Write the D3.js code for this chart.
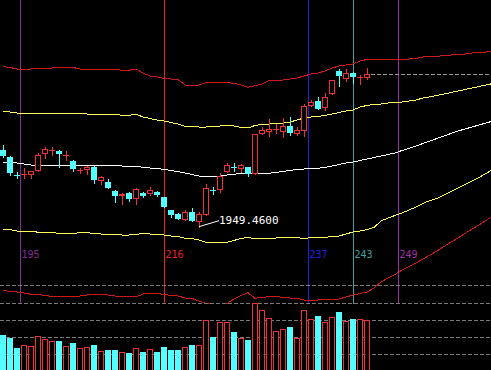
<!DOCTYPE html>
<meta charset="utf-8">
<style>
body { margin: 0; background: #000; }
svg { display: block; }
.wick, .band, .grid, .mark { shape-rendering: crispEdges; }
</style>
<body>
<script src="https://d3js.org/d3.v7.min.js"></script>
<script>
// daily candles, one per bar index
var opens  = [2110.5,2095.8,2058.0,2058.0,2058.0,2067.0,2101.5,2108.4,2108.4,2097.9,2087.4,2067.5,2067.9,2074.8,2045.4,2043.3,2024.4,2014.5,2020.2,2008.3,2020.2,2018.7,2021.7,2010.8,1983.9,1975.5,1963.5,1980.3,1959.9,1974.0,2026.5,2026.5,2063.7,2074.8,2070.0,2074.2,2060.7,2144.7,2148.3,2151.9,2148.9,2161.5,2144.1,2150.4,2202.3,2214.0,2198.7,2228.1,2276.4,2259.6,2272.2,2261.7,2261.7];
var highs  = [2121.0,2097.9,2063.7,2072.1,2066.4,2104.8,2116.8,2116.2,2109.5,2108.4,2088.5,2073.3,2076.3,2075.9,2055.3,2049.6,2025.5,2020.8,2021.3,2029.7,2021.3,2032.8,2024.4,2011.8,1984.5,1977.6,1983.9,1988.1,1980.9,2038.5,2033.4,2061.6,2082.6,2082.6,2081.1,2074.8,2144.1,2159.4,2175.6,2164.5,2177.1,2179.2,2158.2,2207.1,2215.5,2222.4,2229.6,2257.5,2280.0,2280.0,2273.3,2267.4,2282.1];
var lows   = [2095.8,2058.0,2051.1,2052.3,2052.3,2065.4,2093.1,2100.0,2075.4,2089.5,2067.0,2061.6,2059.5,2041.8,2039.7,2029.7,2001.9,1996.5,2004.0,1996.5,2011.2,2016.0,2013.9,1990.8,1970.4,1965.0,1962.5,1960.8,1949.46,1973.4,2018.1,2021.7,2063.3,2066.4,2063.7,2055.9,2060.1,2144.1,2139.3,2145.6,2137.2,2142.0,2142.0,2140.5,2201.9,2196.6,2194.5,2227.5,2245.5,2256.0,2251.8,2248.5,2259.0];
var closes = [2097.9,2062.8,2057.4,2059.5,2066.4,2100.0,2113.2,2109.5,2102.7,2099.0,2070.0,2068.5,2074.8,2046.9,2053.8,2030.1,2014.5,2017.5,2007.6,2028.6,2014.5,2025.9,2016.0,1991.4,1974.0,1965.6,1980.9,1961.4,1975.5,2030.1,2025.9,2056.5,2079.0,2074.2,2078.4,2059.5,2143.5,2152.5,2155.2,2154.6,2160.3,2145.6,2152.5,2203.5,2210.7,2197.2,2221.2,2256.9,2265.9,2271.6,2264.4,2262.8,2270.1];
var volumes = [37,34.3,24.3,27,26,35.7,33,31,31,26,29,24,25,27,21,22,22,20,19,24,20,23,20,25,22,22,25,27,27,52,35,50,50,40,34,32,69,62,54,41,43,45,34,62,53,56,50,55,60,51,53,53,52];

// channel lines (run past the last candle)
var upperOuter = [2285.4,2283.8,2280.6,2280.6,2280.6,2282.1,2282.1,2282.7,2284.8,2284.8,2283.8,2280.6,2280.6,2280.6,2280.6,2280.6,2279.6,2277.9,2277.9,2280.6,2272.2,2265.9,2263.8,2260.7,2259.6,2258.6,2247.0,2246.4,2247.0,2251.8,2251.8,2251.8,2251.8,2250.6,2247.0,2242.2,2245.5,2249.1,2256.5,2257.5,2257.5,2259.6,2261.7,2265.9,2270.1,2272.2,2276.4,2282.7,2286.9,2289.0,2291.1,2297.4,2300.6,2301.6,2301.6,2301.6,2301.6,2301.6,2301.6,2302.7,2305.8,2306.4,2306.9,2309.0,2310.0,2311.1,2312.1,2314.2,2315.3,2316.3,2317.4];
var upperInner = [2190.9,2190.3,2188.2,2188.2,2188.2,2188.2,2187.2,2188.2,2188.2,2188.2,2188.2,2187.2,2186.1,2185.5,2185.5,2185.5,2185.1,2183.4,2183.4,2185.5,2179.8,2176.7,2173.5,2171.4,2168.3,2165.1,2159.9,2159.4,2158.8,2158.8,2159.9,2160.9,2162.0,2160.9,2157.8,2156.7,2162.0,2164.1,2165.1,2166.2,2167.2,2169.3,2173.5,2177.7,2179.8,2180.9,2183.0,2186.1,2189.3,2192.4,2194.5,2200.8,2204.0,2206.1,2207.1,2209.2,2210.3,2211.3,2213.4,2215.5,2219.7,2222.2,2225.0,2228.1,2231.3,2234.4,2237.6,2240.7,2243.9,2247.0,2250.2];
var middle = [2084.7,2084.3,2083.2,2081.1,2079.0,2078.4,2077.5,2077.5,2077.5,2077.5,2077.5,2077.5,2077.5,2077.5,2077.5,2077.5,2077.5,2076.9,2076.3,2075.9,2074.2,2072.7,2071.7,2069.6,2067.5,2064.9,2062.2,2059.1,2055.9,2055.9,2055.9,2055.9,2058.0,2059.5,2061.2,2061.6,2061.6,2061.6,2061.6,2063.3,2065.4,2067.5,2069.6,2070.6,2071.7,2072.1,2073.8,2076.9,2080.1,2083.2,2085.3,2088.5,2091.6,2094.8,2097.9,2101.1,2104.2,2109.5,2113.7,2118.9,2124.2,2129.4,2134.7,2139.9,2145.2,2150.4,2154.6,2158.8,2163.0,2167.2,2171.4];
var lowerInner = [1944.0,1943.6,1940.4,1940.4,1940.4,1937.7,1937.7,1937.3,1935.2,1934.7,1935.2,1936.8,1936.8,1935.2,1934.1,1934.1,1933.1,1932.0,1932.0,1933.1,1935.6,1934.1,1933.5,1932.0,1929.9,1928.9,1925.1,1924.7,1921.5,1916.7,1916.7,1916.7,1916.7,1920.5,1925.1,1926.3,1924.7,1924.7,1925.1,1925.7,1926.3,1926.3,1926.3,1924.7,1926.3,1926.3,1927.2,1928.4,1929.9,1934.1,1938.3,1940.4,1943.6,1947.8,1961.4,1967.7,1973.0,1978.2,1984.5,1990.8,1998.2,2004.5,2008.7,2016.0,2023.4,2030.7,2038.1,2045.4,2052.8,2061.2,2069.6];
var lowerOuter = [1816.5,1812.9,1812.3,1810.2,1807.5,1807.5,1805.0,1802.9,1802.4,1802.4,1802.4,1803.9,1806.0,1807.5,1807.5,1806.0,1803.9,1802.9,1803.9,1801.8,1808.1,1809.6,1809.6,1807.1,1805.0,1803.9,1799.7,1798.7,1793.4,1788.2,1787.1,1782.9,1788.2,1797.6,1805.0,1810.8,1799.1,1800.8,1802.4,1802.9,1800.8,1799.7,1799.1,1795.5,1793.4,1795.5,1796.6,1797.0,1797.6,1801.8,1806.0,1809.2,1812.3,1820.7,1833.3,1841.7,1849.1,1858.5,1865.9,1873.2,1881.6,1890.0,1898.4,1907.9,1917.3,1925.7,1935.2,1944.6,1953.0,1962.5,1971.9];

// vertical time markers (label, bar position)
var markerLabels = ["195", "216", "237", "243", "249"];
var markerBars = [2.43, 23, 43.57, 50, 56.43];
var markerColors = ["#8a2a9a", "#f02020", "#2020e0", "#3ea0a0", "#a030a8"];

var width = 491, height = 370;
var red = "#f03232", cyan = "#54ffff", bandRed = "#d01818", yellow = "#ffff5a";

var svg = d3.select("body").append("svg")
    .attr("width", width)
    .attr("height", height);
svg.append("rect").attr("width", width).attr("height", height).attr("fill", "#000");

var x = d3.scaleLinear().domain([0, 70]).range([3, 493]);
var y = d3.scaleLinear().domain([1789.2, 2425.5]).range([303, 0]);
var yv = d3.scaleLinear().domain([0, 69]).range([372, 303]);

svg.append("clipPath").attr("id", "mainclip")
  .append("rect").attr("width", width).attr("height", 304);
var main = svg.append("g").attr("clip-path", "url(#mainclip)");

// dashed grid lines
[285, 303, 320, 337, 354].forEach(function(gy) {
  svg.append("line").attr("class", "grid")
      .attr("x1", 0).attr("x2", width)
      .attr("y1", gy + 0.5).attr("y2", gy + 0.5)
      .attr("stroke", "#7a7a7a").attr("stroke-dasharray", "4,2");
});

// time markers
markerBars.forEach(function(b, i) {
  var mx = Math.round(x(b)) + 0.5;
  main.append("line").attr("class", "mark")
      .attr("x1", mx).attr("x2", mx).attr("y1", 0).attr("y2", 304)
      .attr("stroke", markerColors[i]);
  svg.append("text")
      .attr("x", mx + 1).attr("y", 258)
      .attr("fill", markerColors[i])
      .style("font", "10px 'DejaVu Sans Mono'")
      .text(markerLabels[i]);
});

// channel lines
var line = d3.line()
    .x(function(d, i) { return x(i); })
    .y(function(d) { return y(d); });
[[upperOuter, bandRed], [upperInner, yellow], [middle, "#ffffff"],
 [lowerInner, yellow], [lowerOuter, bandRed]].forEach(function(s) {
  main.append("path").attr("class", "band")
      .attr("d", line(s[0]))
      .attr("fill", "none")
      .attr("stroke", s[1]);
});

// candles
var bars = opens.map(function(o, i) {
  return {i: i, o: o, h: highs[i], l: lows[i], c: closes[i], v: volumes[i], up: closes[i] >= o};
});

var candle = main.selectAll(".candle").data(bars).enter().append("g");
candle.append("line").attr("class", "wick")
    .attr("x1", function(d) { return Math.round(x(d.i)) + 0.5; })
    .attr("x2", function(d) { return Math.round(x(d.i)) + 0.5; })
    .attr("y1", function(d) { return Math.round(y(d.h)); })
    .attr("y2", function(d) { return Math.round(y(d.l)) + 1; })
    .attr("stroke", function(d) { return d.up ? red : cyan; });
candle.each(function(d) {
  var g = d3.select(this);
  var left = Math.round(x(d.i)) - 3;
  var top = Math.round(y(Math.max(d.o, d.c)));
  var bot = Math.round(y(Math.min(d.o, d.c)));
  if (!d.up) {
    g.append("rect").attr("x", left).attr("y", top)
        .attr("width", 6).attr("height", Math.max(1, bot - top))
        .attr("fill", cyan);
  } else if (bot - top < 2) {
    g.append("rect").attr("x", left).attr("y", top)
        .attr("width", 6).attr("height", 1).attr("fill", red);
  } else {
    g.append("rect").attr("x", left + 0.5).attr("y", top + 0.5)
        .attr("width", 5).attr("height", bot - top - 1)
        .attr("fill", "#000").attr("stroke", red);
  }
});

// last close level
var lastY = Math.round(y(closes[closes.length - 1])) + 0.5;
main.append("line").attr("class", "grid")
    .attr("x1", Math.round(x(closes.length - 1)) + 4).attr("x2", width)
    .attr("y1", lastY).attr("y2", lastY)
    .attr("stroke", "#9a9a9a").attr("stroke-dasharray", "4,2");

// lowest low annotation
var lowIdx = d3.minIndex(lows);
var lx = x(lowIdx), ly = y(lows[lowIdx]);
main.append("line")
    .attr("x1", lx).attr("y1", ly)
    .attr("x2", lx + 20).attr("y2", ly - 6)
    .attr("stroke", "#fff");
main.append("text")
    .attr("x", lx + 20).attr("y", ly - 3)
    .attr("fill", "#fff")
    .style("font", "11px 'DejaVu Sans Mono'")
    .text(d3.format(".4f")(lows[lowIdx]));

// volume
svg.selectAll(".vol").data(bars).enter().append("rect")
    .attr("x", function(d) { return Math.round(x(d.i)) - 3 + (d.up ? 0.5 : 0); })
    .attr("y", function(d) { return Math.round(yv(d.v)) + (d.up ? 0.5 : 0); })
    .attr("width", function(d) { return d.up ? 5 : 6; })
    .attr("height", function(d) { return height + 10 - yv(d.v); })
    .attr("fill", function(d) { return d.up ? "#000" : cyan; })
    .attr("stroke", function(d) { return d.up ? red : "none"; });
</script>
</body>
